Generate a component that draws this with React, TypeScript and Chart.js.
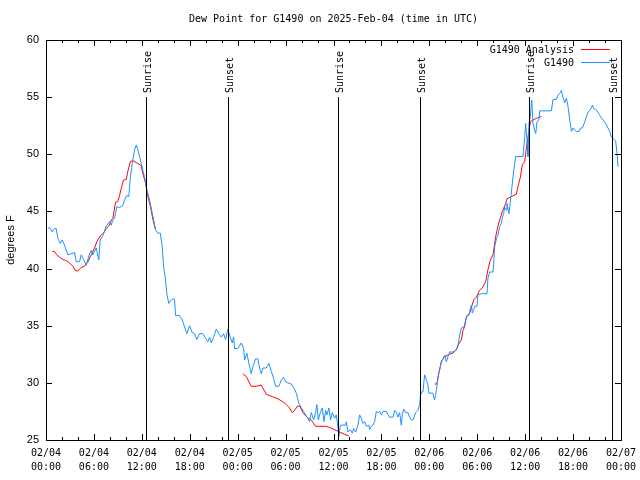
import React, { useEffect, useRef } from "react";
import { Chart, registerables } from "chart.js";

Chart.register(...registerables);

// ---- data (x = hours since 2025-02-04 00:00 UTC, y = dew point °F) ----
const dayLabels = ["02/04", "02/05", "02/06", "02/07"];
const chartTitle = "Dew Point for G1490 on 2025-Feb-04 (time in UTC)";
const yAxisTitle = "degrees F";
const seriesNames = ["G1490 Analysis", "G1490"];

const g1490: [number, number][] = [
  [0.23,43.5],[0.44,43.6],[0.78,43.2],[1.06,43.5],[1.28,43.5],[1.48,42.65],[1.78,42.2],[2.03,42.5],[2.32,42.06],[2.73,41.2],
  [3.16,41.3],[3.57,41.4],[3.78,40.6],[4.2,40.6],[4.41,41.2],[4.7,40.8],[5.04,40.3],[5.36,41.1],[5.66,41.6],[5.86,41.2],
  [6.29,41.8],[6.61,40.75],[6.79,42.5],[7.12,42.9],[7.54,43.7],[7.95,44.1],[8.17,43.8],[8.37,44.25],[8.58,44.4],[8.87,45.4],
  [9.21,45.35],[9.62,45.5],[9.83,46.0],[10.12,46.4],[10.37,46.3],[10.55,47.9],[10.8,49.2],[11.09,50.4],[11.3,50.8],[11.5,50.4],
  [11.71,49.8],[11.93,49.2],[12.13,48.6],[12.34,48.0],[12.63,46.9],[12.97,46.0],[13.38,44.6],[13.72,43.4],[14.0,43.1],[14.31,43.1],
  [14.56,41.9],[14.72,40.2],[14.97,39.0],[15.13,37.8],[15.38,36.95],[15.68,37.25],[15.97,37.4],[16.1,37.25],[16.22,35.9],[16.72,35.9],
  [17.06,35.5],[17.35,34.9],[17.64,34.3],[17.98,35.0],[18.31,34.4],[18.6,34.3],[18.89,33.8],[19.23,34.3],[19.64,34.3],[19.98,33.9],
  [20.27,33.6],[20.48,34.0],[20.69,33.5],[20.98,34.0],[21.32,34.7],[21.65,34.3],[21.95,34.0],[22.23,34.3],[22.49,33.8],[22.77,34.7],
  [23.07,34.0],[23.32,33.5],[23.49,34.0],[23.61,33.0],[24.03,33.0],[24.45,33.5],[24.74,33.0],[24.87,32.0],[25.15,32.6],[25.4,31.7],
  [25.7,30.8],[25.9,31.4],[26.24,32.1],[26.53,32.1],[26.74,31.3],[26.96,30.8],[27.16,31.3],[27.58,31.3],[27.91,31.7],[28.21,31.0],
  [28.5,30.4],[28.75,29.7],[29.16,29.7],[29.46,30.25],[29.75,30.5],[30.0,30.1],[30.29,30.0],[30.72,29.9],[31.0,29.6],[31.34,29.1],
  [31.67,28.2],[31.97,27.8],[32.26,27.5],[32.51,27.2],[32.79,26.9],[33.01,26.6],[33.22,27.4],[33.51,26.75],[33.76,27.4],[33.92,28.1],
  [34.1,26.75],[34.35,27.4],[34.6,27.8],[34.8,26.6],[35.01,27.6],[35.18,27.2],[35.43,27.8],[35.64,26.75],[35.85,27.4],[36.14,26.9],
  [36.35,27.2],[36.55,26.2],[36.68,25.3],[36.85,26.3],[37.52,26.3],[37.6,26.6],[37.81,25.7],[38.11,25.9],[38.36,25.6],[38.52,26.0],
  [38.77,25.7],[39.06,26.3],[39.27,27.2],[39.48,26.9],[39.68,26.45],[39.9,26.6],[40.11,26.2],[40.44,26.3],[40.52,25.9],[40.74,26.2],
  [40.94,26.3],[41.15,26.6],[41.36,27.5],[41.56,27.4],[41.78,27.5],[41.99,27.2],[42.19,27.5],[42.62,27.5],[42.82,27.2],[43.03,27.0],
  [43.44,27.0],[43.66,27.6],[43.87,27.4],[44.07,27.0],[44.28,27.4],[44.49,26.3],[44.62,27.2],[44.78,27.7],[45.03,27.4],[45.32,27.4],
  [45.53,27.0],[45.75,26.75],[45.95,26.75],[46.29,27.4],[46.57,27.6],[46.79,28.1],[46.87,28.8],[47.0,29.2],[47.2,29.2],[47.41,30.7],
  [47.62,30.3],[47.82,29.8],[47.95,29.1],[48.45,29.1],[48.66,28.5],[48.79,28.9],[48.95,29.7],[49.08,30.5],[49.29,31.1],[49.5,31.85],
  [49.71,32.1],[49.92,32.4],[50.13,31.85],[50.33,32.3],[50.54,32.7],[50.96,32.7],[51.38,32.9],[51.58,33.2],[51.8,34.2],[52.01,34.8],
  [52.34,34.9],[52.55,35.5],[52.76,35.9],[52.96,35.9],[53.14,36.5],[53.26,36.8],[53.39,36.1],[53.55,36.4],[53.68,36.7],[53.96,36.7],
  [54.09,37.7],[54.52,37.8],[55.22,37.8],[55.34,39.15],[55.56,39.7],[55.97,39.7],[56.06,40.5],[56.18,41.9],[56.4,42.6],[56.59,42.9],
  [56.81,43.7],[57.02,43.95],[57.15,44.5],[57.31,44.8],[57.43,45.4],[57.65,45.1],[57.72,45.7],[57.97,44.8],[58.06,45.4],[58.27,46.6],
  [58.47,48.0],[58.81,49.8],[59.73,49.8],[59.94,51.5],[60.06,52.7],[60.23,51.25],[60.35,49.8],[60.48,52.7],[60.65,53.3],[60.82,54.75],
  [60.98,52.7],[61.19,52.1],[61.32,51.8],[61.48,52.85],[61.73,53.0],[61.82,53.8],[63.28,53.8],[63.48,54.8],[63.91,54.8],[64.11,55.2],
  [64.32,55.3],[64.54,55.6],[64.74,55.0],[64.95,54.5],[65.16,54.9],[65.36,54.2],[65.58,53.0],[65.79,52.0],[65.99,52.3],[66.2,52.1],
  [66.42,52.0],[66.74,52.0],[66.92,52.3],[67.17,52.3],[67.46,52.85],[67.67,53.3],[67.87,53.7],[68.17,53.9],[68.42,54.3],[68.58,54.0],
  [68.83,53.9],[69.12,53.7],[69.33,53.4],[69.75,53.0],[70.09,52.7],[70.37,52.3],[70.59,52.0],[70.8,51.5],[71.0,51.4],[71.34,51.1],
  [71.5,50.1],[71.63,48.9],
];

const analysisDay1: [number, number][] = [
  [0.78,41.5],[1.06,41.5],[1.35,41.2],[1.69,41.0],[2.1,40.8],[2.53,40.7],[2.94,40.5],[3.36,40.2],[3.7,39.8],[3.98,39.8],
  [4.41,40.1],[4.82,40.2],[5.24,40.6],[5.66,41.2],[6.08,41.8],[6.36,42.35],[6.79,42.85],[7.2,43.1],[7.54,43.5],[7.95,43.8],
  [8.17,44.25],[8.37,44.4],[8.71,45.8],[8.99,45.85],[9.21,46.4],[9.42,47.0],[9.71,47.75],[10.05,47.8],[10.25,48.5],[10.55,49.35],
  [10.87,49.45],[11.21,49.3],[11.5,49.2],[11.93,49.0],[12.13,48.3],[12.46,47.5],[12.75,46.3],[13.09,45.4],[13.38,44.3],[13.72,43.4],
];
const analysisDay2: [number, number][] = [
  [24.65,30.8],[25.08,30.55],[25.7,29.7],[26.33,29.7],[26.96,29.8],[27.58,29.0],[28.33,28.8],[29.04,28.6],[29.66,28.35],[30.09,28.1],
  [30.5,27.8],[30.84,27.4],[31.13,27.6],[31.54,28.0],[31.84,27.9],[32.17,27.4],[32.67,27.0],[33.22,26.75],[33.76,26.2],[34.26,26.2],
  [35.01,26.2],[35.51,26.1],[36.14,25.9],[36.77,25.7],[37.39,25.5],[37.93,25.35],
];
const analysisDay3: [number, number][] = [
  [48.66,29.9],[48.95,29.9],[49.2,30.9],[49.5,31.85],[49.92,32.3],[50.54,32.5],[50.96,32.6],[51.38,32.9],[51.58,33.3],[52.01,33.75],
  [52.21,34.6],[52.42,34.9],[52.64,35.8],[53.05,36.1],[53.55,37.25],[53.89,37.5],[54.3,38.1],[54.72,38.4],[55.05,38.85],[55.34,39.9],
  [55.64,40.75],[55.97,41.2],[56.31,42.8],[56.59,43.7],[56.81,44.25],[57.15,45.0],[57.56,45.7],[57.72,46.1],[58.27,46.3],[58.9,46.5],
  [59.1,47.2],[59.4,48.0],[59.65,49.1],[59.94,49.35],[60.23,50.95],[60.48,52.1],[60.65,52.85],[60.98,53.0],[61.41,53.15],[62.03,53.3],
];

const eventHours = [12.46, 22.77, 36.55, 46.79, 60.48, 70.87];
const eventLabels = ["Sunrise", "Sunset", "Sunrise", "Sunset", "Sunrise", "Sunset"];

const X_MIN = 0, X_MAX = 72, X_MAJOR = 6, X_MINOR = 2;
const Y_MIN = 25, Y_MAX = 60, Y_STEP = 5;

const RED = "#ff0000";
const BLUE = "#1e90ff";
const MONO = "'DejaVu Sans Mono', monospace";
const SANS = "'Liberation Sans', Arial, sans-serif";

const toPoints = (arr: [number, number][]) => arr.map(([x, y]) => ({ x, y }));

const overlayPlugin = {
  id: "gnuplotOverlay",
  afterDatasetsDraw(chart: any) {
    const { ctx, chartArea: a, scales } = chart;
    const xs = scales.x, ys = scales.y;
    ctx.save();
    ctx.strokeStyle = "#000";
    ctx.lineWidth = 1;

    // event lines
    ctx.fillStyle = "#000";
    ctx.font = `10px ${MONO}`;
    eventHours.forEach((h, i) => {
      const px = Math.round(xs.getPixelForValue(h)) + 0.5;
      ctx.beginPath();
      ctx.moveTo(px, 97);
      ctx.lineTo(px, a.bottom);
      ctx.stroke();
      ctx.save();
      ctx.translate(px + 2, 93);
      ctx.rotate(-Math.PI / 2);
      ctx.textAlign = "left";
      ctx.textBaseline = "middle";
      ctx.fillText(eventLabels[i], 0, 0);
      ctx.restore();
    });

    // border
    ctx.strokeRect(a.left + 0.5, a.top + 0.5, a.right - a.left, a.bottom - a.top);

    // x ticks (top and bottom, inward)
    ctx.beginPath();
    for (let h = X_MIN; h <= X_MAX; h += X_MINOR) {
      const px = Math.round(xs.getPixelForValue(h)) + 0.5;
      const len = h % X_MAJOR === 0 ? 6 : 3;
      ctx.moveTo(px, a.bottom);
      ctx.lineTo(px, a.bottom - len);
      ctx.moveTo(px, a.top);
      ctx.lineTo(px, a.top + len);
    }
    // y ticks (left and right, inward)
    for (let v = Y_MIN; v <= Y_MAX; v += Y_STEP) {
      const py = Math.round(ys.getPixelForValue(v)) + 0.5;
      ctx.moveTo(a.left, py);
      ctx.lineTo(a.left + 6, py);
      ctx.moveTo(a.right, py);
      ctx.lineTo(a.right - 6, py);
    }
    ctx.stroke();

    // title
    ctx.font = `10px ${MONO}`;
    ctx.textAlign = "center";
    ctx.textBaseline = "middle";
    ctx.fillText(chartTitle, (a.left + a.right) / 2, 19);

    // y axis title
    ctx.save();
    ctx.translate(11, (a.top + a.bottom) / 2);
    ctx.rotate(-Math.PI / 2);
    ctx.font = `11px ${SANS}`;
    ctx.textAlign = "center";
    ctx.textBaseline = "middle";
    ctx.fillText(yAxisTitle, 0, 0);
    ctx.restore();

    // legend
    ctx.font = `10px ${MONO}`;
    ctx.textAlign = "right";
    ctx.textBaseline = "middle";
    const legendColors = [RED, BLUE];
    seriesNames.forEach((name, i) => {
      const ly = 50 + i * 13;
      ctx.fillStyle = "#000";
      ctx.fillText(name, 574, ly);
      ctx.strokeStyle = legendColors[i];
      ctx.beginPath();
      ctx.moveTo(581, ly - 0.5);
      ctx.lineTo(610, ly - 0.5);
      ctx.stroke();
    });
    ctx.restore();
  },
};

export default function App() {
  const canvasRef = useRef<HTMLCanvasElement | null>(null);

  useEffect(() => {
    if (!canvasRef.current) return;
    const analysis = [
      ...toPoints(analysisDay1),
      { x: 18, y: null },
      ...toPoints(analysisDay2),
      { x: 43, y: null },
      ...toPoints(analysisDay3),
    ];
    const chart = new Chart(canvasRef.current, {
      type: "line",
      data: {
        datasets: [
          {
            label: seriesNames[1],
            data: toPoints(g1490),
            borderColor: BLUE,
            borderWidth: 1,
            pointRadius: 0,
            tension: 0,
            fill: false,
          },
          {
            label: seriesNames[0],
            data: analysis as any,
            borderColor: RED,
            borderWidth: 1,
            pointRadius: 0,
            tension: 0,
            fill: false,
            spanGaps: false,
          },
        ],
      },
      options: {
        animation: false,
        responsive: false,
        maintainAspectRatio: false,
        layout: { padding: { top: 40, right: 19, left: 0, bottom: 0 } },
        plugins: {
          legend: { display: false },
          title: { display: false },
          tooltip: { enabled: false },
        },
        scales: {
          x: {
            type: "linear",
            min: X_MIN,
            max: X_MAX,
            grid: { display: false, drawTicks: false },
            border: { display: false },
            ticks: {
              stepSize: X_MAJOR,
              autoSkip: false,
              maxRotation: 0,
              minRotation: 0,
              color: "#000",
              padding: 6,
              font: { family: MONO, size: 10, lineHeight: 1.4 },
              callback: (value: any) => {
                const h = Number(value);
                const d = Math.floor(h / 24);
                const hh = h % 24;
                return [dayLabels[d], (hh < 10 ? "0" : "") + hh + ":00"];
              },
            },
            afterFit: (s: any) => {
              s.height = 40;
              s.paddingLeft = 0;
              s.paddingRight = 0;
            },
          },
          y: {
            min: Y_MIN,
            max: Y_MAX,
            grid: { display: false, drawTicks: false },
            border: { display: false },
            ticks: {
              stepSize: Y_STEP,
              color: "#000",
              padding: 7,
              font: { family: SANS, size: 11 },
            },
            afterFit: (s: any) => {
              s.width = 46;
              s.paddingTop = 0;
              s.paddingBottom = 0;
            },
          },
        },
      },
      plugins: [overlayPlugin],
    } as any);
    return () => chart.destroy();
  }, []);

  return (
    <div style={{ position: "absolute", left: 0, top: 0, width: 640, height: 480, background: "#fff" }}>
      <canvas ref={canvasRef} width={640} height={480} style={{ display: "block" }} />
    </div>
  );
}
